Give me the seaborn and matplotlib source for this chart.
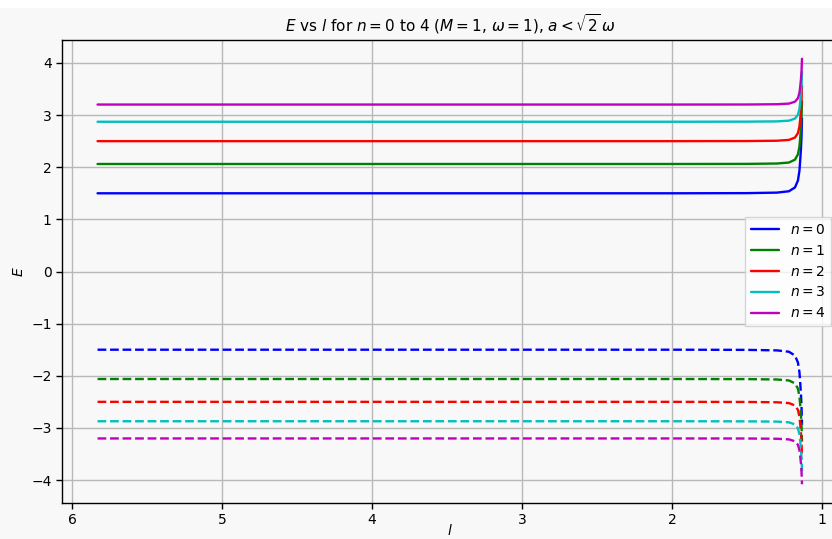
import numpy as np
import pandas as pd
import seaborn as sns
import matplotlib
matplotlib.use("Agg")
import matplotlib.pyplot as plt
from matplotlib.patches import Rectangle

# l values (x axis, decreasing towards the turning point)
l_vals = [5.83, 3.0, 2.0, 1.5, 1.3, 1.22, 1.18, 1.16, 1.15, 1.145, 1.14, 1.136, 1.133]

# positive energy branch, one list per n
E_n0 = [1.500, 1.500, 1.500, 1.503, 1.513, 1.539, 1.612, 1.746, 1.936, 2.133, 2.356, 2.617, 2.941]
E_n1 = [2.062, 2.062, 2.062, 2.064, 2.071, 2.090, 2.145, 2.247, 2.398, 2.559, 2.748, 2.975, 3.263]
E_n2 = [2.500, 2.500, 2.500, 2.502, 2.508, 2.524, 2.569, 2.655, 2.784, 2.924, 3.090, 3.294, 3.557]
E_n3 = [2.872, 2.872, 2.872, 2.874, 2.879, 2.893, 2.933, 3.008, 3.122, 3.248, 3.399, 3.585, 3.828]
E_n4 = [3.202, 3.202, 3.202, 3.203, 3.208, 3.220, 3.256, 3.324, 3.428, 3.543, 3.681, 3.854, 4.080]

levels = [0, 1, 2, 3, 4]
colors = ['b', 'g', 'r', 'c', 'm']

sns.set_style("ticks")
plt.rcParams['font.family'] = ['DejaVu Sans']
plt.rcParams.update({'text.color': 'black', 'axes.labelcolor': 'black',
                     'xtick.color': 'black', 'ytick.color': 'black'})

fig = plt.figure(figsize=(8.32, 5.39), dpi=100, facecolor='#f8f8f8')
# thin white strip along the top edge
fig.patches.append(Rectangle((0, 1 - 8 / 539), 1, 8 / 539, transform=fig.transFigure,
                             facecolor='white', edgecolor='none', zorder=-1))
ax = fig.add_axes([62 / 832, 1 - 503 / 539, (838 - 62) / 832, (503 - 40) / 539])
ax.set_facecolor('#f8f8f8')

for n, E, c in zip(levels, [E_n0, E_n1, E_n2, E_n3, E_n4], colors):
    df = pd.DataFrame({'l': l_vals, 'E': E})
    sns.lineplot(data=df, x='l', y='E', color=c, lw=1.7, ax=ax,
                 estimator=None, sort=False, label=rf'$n = {n}$')
    df_neg = pd.DataFrame({'l': l_vals, 'E': [-v for v in E]})
    sns.lineplot(data=df_neg, x='l', y='E', color=c, lw=1.7, ax=ax,
                 estimator=None, sort=False, linestyle='--')

ax.set_xlim(6.067, 0.893)
ax.set_ylim(-4.44, 4.44)
ax.set_xticks([6, 5, 4, 3, 2, 1])
ax.set_yticks([-4, -3, -2, -1, 0, 1, 2, 3, 4])
ax.grid(True, color='#b8b8b8', lw=1.0)
for s in ax.spines.values():
    s.set_color('black')
    s.set_linewidth(1.0)
ax.tick_params(labelsize=10, length=4, width=1, color='black')

ax.set_xlabel(r'$l$', fontsize=10, labelpad=-3)
ax.set_ylabel(r'$E$', fontsize=10)
ax.set_title(r'$E$ vs $l$ for $n = 0$ to 4 ($M = 1$, $\omega = 1$), $a < \sqrt{2}\,\omega$',
             fontsize=11)

leg = ax.legend(loc='center right', fontsize=10, frameon=True, fancybox=False)
leg.get_frame().set_edgecolor('#cccccc')

fig.savefig('out.png', dpi=100, facecolor=fig.get_facecolor())
